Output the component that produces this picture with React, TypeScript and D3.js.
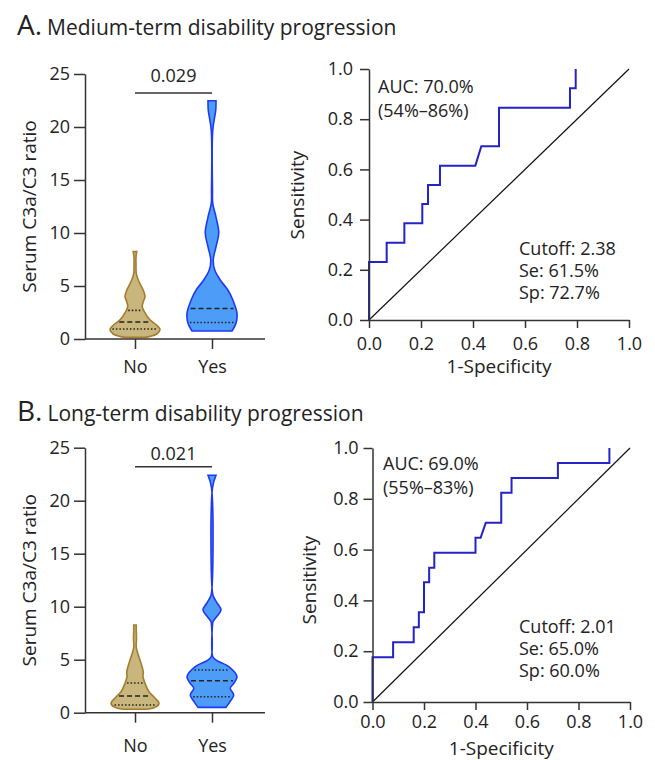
import React, { useRef, useEffect } from "react";
import * as d3 from "d3";

const width = 655;
const height = 760;
const font = "'Open Sans', 'Noto Sans', sans-serif";

const groups = ["No", "Yes"];
const violinTicks = [0, 5, 10, 15, 20, 25];
const rocTicks = [0, 0.2, 0.4, 0.6, 0.8, 1.0];

// violin density profiles: [ratio value, relative density]
const noMediumProfile = [
 [0.15, 0.4], [0.47, 0.87], [0.9, 1.0], [1.3, 0.87], [1.8, 0.6], [2.58, 0.37],
 [3.05, 0.29], [3.5, 0.33], [4.0, 0.4], [4.6, 0.33], [5.57, 0.13], [6.2, 0.05],
 [7.0, 0.04], [7.7, 0.04], [8.24, 0.07],
];
const yesMediumProfile = [
 [0.75, 0.8], [1.48, 0.96], [2.42, 1.0], [3.7, 0.83], [4.6, 0.64], [5.57, 0.33],
 [6.5, 0.11], [7.45, 0.05], [8.7, 0.16], [10.0, 0.27], [11.5, 0.16], [12.8, 0.03],
 [14.0, 0.02], [19.7, 0.03], [21.6, 0.15], [22.48, 0.16],
];
const noLongProfile = [
 [0.32, 0.4], [0.5, 0.8], [0.88, 0.96], [1.45, 0.77], [1.98, 0.56], [2.77, 0.4],
 [3.4, 0.32], [3.87, 0.33], [4.66, 0.24], [5.6, 0.11], [6.2, 0.05], [7.0, 0.06],
 [7.8, 0.05], [8.27, 0.05],
];
const yesLongProfile = [
 [0.5, 0.56], [1.04, 0.72], [1.67, 0.87], [2.3, 0.73], [2.77, 0.87], [3.4, 1.0],
 [4.34, 0.67], [4.97, 0.16], [5.3, 0.03], [8.5, 0.03], [8.6, 0.04], [9.1, 0.2],
 [9.7, 0.36], [10.3, 0.22], [10.9, 0.07], [11.3, 0.02], [21.2, 0.02], [22.4, 0.16],
];

const mediansMedium = [1.6, 2.88];
const quartilesMedium = [[0.95, 2.7], [1.55]];
const mediansLong = [1.58, 3.02];
const quartilesLong = [[0.73, 2.8], [1.51, 4.03]];

// ROC curves
const rocMediumFpr = [0, 0, 0.068, 0.068, 0.136, 0.136, 0.205, 0.205, 0.227, 0.227, 0.273, 0.273, 0.409, 0.432, 0.5, 0.5, 0.773, 0.773, 0.795, 0.795];
const rocMediumTpr = [0, 0.231, 0.231, 0.308, 0.308, 0.385, 0.385, 0.462, 0.462, 0.538, 0.538, 0.615, 0.615, 0.692, 0.692, 0.846, 0.846, 0.923, 0.923, 1.0];
const rocLongFpr = [0, 0, 0.08, 0.08, 0.16, 0.16, 0.18, 0.18, 0.2, 0.2, 0.22, 0.22, 0.24, 0.24, 0.4, 0.4, 0.42, 0.44, 0.5, 0.5, 0.54, 0.54, 0.72, 0.72, 0.92, 0.92];
const rocLongTpr = [0, 0.176, 0.176, 0.235, 0.235, 0.294, 0.294, 0.353, 0.353, 0.471, 0.471, 0.529, 0.529, 0.588, 0.588, 0.647, 0.647, 0.706, 0.706, 0.824, 0.824, 0.882, 0.882, 0.941, 0.941, 1.0];

const aucMedium = ["AUC: 70.0%", "(54%–86%)"];
const cutoffMedium = ["Cutoff: 2.38", "Se: 61.5%", "Sp: 72.7%"];
const aucLong = ["AUC: 69.0%", "(55%–83%)"];
const cutoffLong = ["Cutoff: 2.01", "Se: 65.0%", "Sp: 60.0%"];

const violinFill = ["#c9b67c", "#4d9cf8"];
const violinStroke = ["#a67c2e", "#1f3af2"];

const violinPanels = [
 {
  top: 74, bottom: 339, left: 85, right: 265, cx: [135, 212],
  profiles: [noMediumProfile, yesMediumProfile],
  medians: mediansMedium, quartiles: quartilesMedium,
  pValue: "0.029", pGap: 11, catGap: 34,
 },
 {
  top: 447.7, bottom: 712.7, left: 85, right: 265, cx: [135, 212],
  profiles: [noLongProfile, yesLongProfile],
  medians: mediansLong, quartiles: quartilesLong,
  pValue: "0.021", pGap: 7, catGap: 39,
 },
];

const rocPanels = [
 {
  top: 69, bottom: 320, left: 369, right: 629,
  fpr: rocMediumFpr, tpr: rocMediumTpr,
  xLabGap: 30, yPad: 7, sensX: 304, sensY: 195, specGap: 53,
  auc: aucMedium, aucAt: [378, 93], cutoff: cutoffMedium, cutoffAt: [519, 255],
 },
 {
  top: 448, bottom: 702, left: 372.5, right: 630,
  fpr: rocLongFpr, tpr: rocLongTpr,
  xLabGap: 26, yPad: 5, sensX: 316, sensY: 580, specGap: 53,
  auc: aucLong, aucAt: [383, 470], cutoff: cutoffLong, cutoffAt: [519, 633],
 },
];

const titles = [
 { letter: "A.", text: "Medium-term disability progression", y: 35 },
 { letter: "B.", text: "Long-term disability progression", y: 421 },
];

const styleAxis = (sel, size = 18) => {
 sel.attr("font-family", font).attr("font-size", size).attr("color", "#333");
 sel.selectAll("path, line").attr("stroke-width", 1.5);
 sel.selectAll("text").attr("fill", "#222");
};

const drawViolin = (root, p) => {
 const y = d3.scaleLinear().domain([0, 25]).range([p.bottom, p.top]);
 const x = d3.scalePoint().domain(groups).range(p.cx);
 const w = d3.scaleLinear().domain([0, 1]).range([0, 25]);
 const g = root.append("g");

 groups.forEach((grp, i) => {
  const prof = p.profiles[i];
  const cx = x(grp);
  const area = d3
   .area()
   .x0((d) => cx - w(d[1]))
   .x1((d) => cx + w(d[1]))
   .y((d) => y(d[0]))
   .curve(d3.curveCatmullRom.alpha(0.5));
  g.append("path")
   .attr("d", area(prof))
   .attr("fill", violinFill[i])
   .attr("stroke", violinStroke[i])
   .attr("stroke-width", 1.6);

  const widthAt = d3
   .scaleLinear()
   .domain(prof.map((d) => d[0]))
   .range(prof.map((d) => d[1]));
  const hLine = (v, dash) => {
   const hw = w(widthAt(v)) - 2;
   g.append("line")
    .attr("x1", cx - hw)
    .attr("x2", cx + hw)
    .attr("y1", y(v))
    .attr("y2", y(v))
    .attr("stroke", "#222")
    .attr("stroke-width", 1.6)
    .attr("stroke-dasharray", dash);
  };
  hLine(p.medians[i], "5,3");
  p.quartiles[i].forEach((q) => hLine(q, "1.5,2"));
 });

 const yAxis = g
  .append("g")
  .attr("transform", `translate(${p.left},0)`)
  .call(d3.axisLeft(y).tickValues(violinTicks).tickSize(11).tickPadding(4).tickSizeOuter(0));
 styleAxis(yAxis);

 g.append("line")
  .attr("x1", p.left)
  .attr("x2", p.right)
  .attr("y1", p.bottom)
  .attr("y2", p.bottom)
  .attr("stroke", "#333")
  .attr("stroke-width", 1.5);
 const xAxis = g
  .append("g")
  .attr("transform", `translate(0,${p.bottom})`)
  .call(d3.axisBottom(x).tickSize(10));
 xAxis.select(".domain").remove();
 styleAxis(xAxis);
 xAxis.selectAll(".tick text").attr("dy", null).attr("y", p.catGap);

 // significance bar
 const barY = y(23.2);
 g.append("line")
  .attr("x1", x("No"))
  .attr("x2", x("Yes"))
  .attr("y1", barY)
  .attr("y2", barY)
  .attr("stroke", "#333")
  .attr("stroke-width", 1.5);
 g.append("text")
  .attr("x", (x("No") + x("Yes")) / 2)
  .attr("y", barY - p.pGap)
  .attr("text-anchor", "middle")
  .attr("font-family", font)
  .attr("font-size", 18)
  .attr("fill", "#222")
  .text(p.pValue);

 g.append("text")
  .attr("transform", `translate(36,${(p.top + p.bottom) / 2}) rotate(-90)`)
  .attr("text-anchor", "middle")
  .attr("font-family", font)
  .attr("font-size", 19)
  .attr("fill", "#222")
  .text("Serum C3a/C3 ratio");
};

const drawRoc = (root, p) => {
 const x = d3.scaleLinear().domain([0, 1]).range([p.left, p.right]);
 const y = d3.scaleLinear().domain([0, 1]).range([p.bottom, p.top]);
 const g = root.append("g");

 g.append("line")
  .attr("x1", x(0))
  .attr("y1", y(0))
  .attr("x2", x(1))
  .attr("y2", y(1))
  .attr("stroke", "#111")
  .attr("stroke-width", 1.2);

 const pts = p.fpr.map((f, i) => [f, p.tpr[i]]);
 g.append("path")
  .attr("d", d3.line().x((d) => x(d[0])).y((d) => y(d[1]))(pts))
  .attr("fill", "none")
  .attr("stroke", "#2323c8")
  .attr("stroke-width", 2);

 const yAxis = g
  .append("g")
  .attr("transform", `translate(${p.left},0)`)
  .call(d3.axisLeft(y).tickValues(rocTicks).tickFormat(d3.format(".1f")).tickSize(9).tickPadding(p.yPad).tickSizeOuter(0));
 styleAxis(yAxis);
 const xAxis = g
  .append("g")
  .attr("transform", `translate(0,${p.bottom})`)
  .call(d3.axisBottom(x).tickValues(rocTicks).tickFormat(d3.format(".1f")).tickSize(8).tickSizeOuter(0));
 styleAxis(xAxis);
 xAxis.selectAll(".tick text").attr("dy", null).attr("y", p.xLabGap);

 g.append("text")
  .attr("transform", `translate(${p.sensX},${p.sensY}) rotate(-90)`)
  .attr("text-anchor", "middle")
  .attr("font-family", font)
  .attr("font-size", 19)
  .attr("fill", "#222")
  .text("Sensitivity");
 g.append("text")
  .attr("x", (p.left + p.right) / 2)
  .attr("y", p.bottom + p.specGap)
  .attr("text-anchor", "middle")
  .attr("font-family", font)
  .attr("font-size", 19)
  .attr("fill", "#222")
  .text("1-Specificity");

 const block = (lines, at, step) => {
  lines.forEach((t, i) => {
   g.append("text")
    .attr("x", at[0])
    .attr("y", at[1] + i * step)
    .attr("font-family", font)
    .attr("font-size", 18)
    .attr("fill", "#222")
    .text(t);
  });
 };
 block(p.auc, p.aucAt, 24);
 block(p.cutoff, p.cutoffAt, 22);
};

const App = () => {
 const svgRef = useRef(null);

 useEffect(() => {
  const svg = d3.select(svgRef.current);
  svg.selectAll("*").remove();
  svg.append("rect").attr("width", width).attr("height", height).attr("fill", "#fff");

  titles.forEach((t) => {
   const txt = svg
    .append("text")
    .attr("x", 17)
    .attr("y", t.y)
    .attr("font-family", font)
    .attr("fill", "#222");
   txt.append("tspan").attr("font-size", 28).text(t.letter);
   txt.append("tspan").attr("font-size", 21).attr("dx", 5).text(t.text);
  });

  violinPanels.forEach((p) => drawViolin(svg, p));
  rocPanels.forEach((p) => drawRoc(svg, p));
 }, []);

 return (
  <svg
   ref={svgRef}
   width={width}
   height={height}
   style={{ position: "absolute", left: 0, top: 0 }}
  />
 );
};

export default App;
